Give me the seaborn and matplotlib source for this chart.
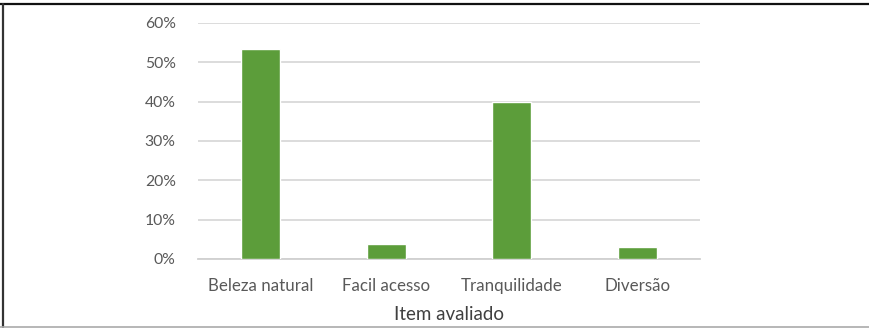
import matplotlib
matplotlib.use("Agg")
import matplotlib.pyplot as plt
from matplotlib.lines import Line2D
from matplotlib.ticker import PercentFormatter
import pandas as pd
import seaborn as sns

# Survey results: share of respondents per evaluated item
categories = ["Beleza natural", "Facil acesso", "Tranquilidade", "Diversão"]
shares = [0.533, 0.038, 0.400, 0.031]
y_ticks = [0.0, 0.1, 0.2, 0.3, 0.4, 0.5, 0.6]
x_title = "Item avaliado"

df = pd.DataFrame({"item": categories, "share": shares})

sns.set_theme(style="white")
plt.rcParams["font.family"] = ["Lato", "DejaVu Sans"]

W, H = 870, 328
fig = plt.figure(figsize=(W / 100, H / 100), dpi=100)
fig.patch.set_facecolor("white")

ax = fig.add_axes([198 / W, (H - 259) / H, (700 - 198) / W, (259 - 23) / H])

sns.barplot(data=df, x="item", y="share", color="#5c9d3a", width=0.31,
            saturation=1, ax=ax, zorder=3)

ax.set_ylim(0, 0.6)
ax.set_xlim(-0.5, len(categories) - 0.5)
ax.set_yticks(y_ticks)
ax.yaxis.set_major_formatter(PercentFormatter(1.0, decimals=0))
ax.grid(axis="y", color="#d9d9d9", linewidth=1.3, zorder=0)
ax.set_axisbelow(True)
for side in ["top", "right", "left"]:
    ax.spines[side].set_visible(False)
ax.spines["bottom"].set_color("#d0d0d0")
ax.spines["bottom"].set_linewidth(1.3)

ax.tick_params(axis="y", length=0, labelsize=11.3, labelcolor="#595959", pad=16)
ax.tick_params(axis="x", length=0, labelsize=12.2, labelcolor="#595959", pad=14)
ax.set_ylabel("")
ax.set_xlabel(x_title, fontsize=13.5, color="#404040", labelpad=8)

# Outer frame of the figure
fig.add_artist(Line2D([0, 1], [(H - 3.5) / H] * 2, transform=fig.transFigure,
                      color="#111111", linewidth=1.6))
fig.add_artist(Line2D([3.5 / W] * 2, [1.5 / H, (H - 3.5) / H],
                      transform=fig.transFigure, color="#333333", linewidth=1.6))
fig.add_artist(Line2D([0, 1], [1 / H] * 2, transform=fig.transFigure,
                      color="#aaaaaa", linewidth=1.2))

fig.savefig("out.png", dpi=100)
